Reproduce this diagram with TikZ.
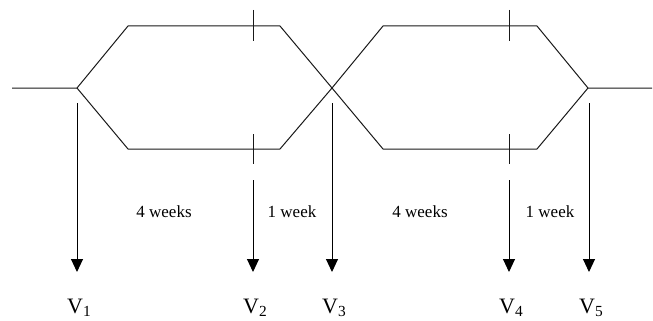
\documentclass[tikz,border=0pt]{standalone}
\usepackage{fontspec}
\setmainfont{Liberation Serif}
\usetikzlibrary{arrows.meta}

\begin{document}
\begin{tikzpicture}[x=1pt, y=-1pt,
  line/.style={black!90, line width=1pt},
  arr/.style={-{Triangle[length=13pt,width=12pt]}, line width=1pt},
  gaplab/.style={anchor=base, font=\fontsize{17}{20}\selectfont},
  vlab/.style={anchor=base west, inner sep=0pt, font=\fontsize{22}{26}\selectfont}]
\useasboundingbox (0,0) rectangle (653,321);
% network of the two loops
\coordinate (in) at (12,88);
\coordinate (j1) at (77,88);
\coordinate (t1l) at (128,26);
\coordinate (t1r) at (280,26);
\coordinate (b1l) at (128,149);
\coordinate (b1r) at (280,149);
\coordinate (j2) at (332,88);
\coordinate (t2l) at (383,26);
\coordinate (t2r) at (537,26);
\coordinate (b2l) at (383,149);
\coordinate (b2r) at (537,149);
\coordinate (j3) at (588,88);
\coordinate (out) at (652,88);
\draw[line] (in) -- (j1) -- (t1l) -- (t1r) -- (j2) -- (b2l) -- (b2r) -- (j3) -- (out);
\draw[line] (j1) -- (b1l) -- (b1r) -- (j2) -- (t2l) -- (t2r) -- (j3);
% ticks
\draw[line] (253,10) -- (253,41);
\draw[line] (253,134) -- (253,164);
\draw[line] (509,10) -- (509,41);
\draw[line] (509,134) -- (509,164);
% visits
\coordinate (s1) at (77,103);
\coordinate (s2) at (253,180);
\coordinate (s3) at (332,103);
\coordinate (s4) at (509,180);
\coordinate (s5) at (589,103);
\coordinate (e1) at (77,272);
\coordinate (e2) at (253,272);
\coordinate (e3) at (332,272);
\coordinate (e4) at (509,272);
\coordinate (e5) at (589,272);
\draw[arr] (s1) -- (e1);
\draw[arr] (s2) -- (e2);
\draw[arr] (s3) -- (e3);
\draw[arr] (s4) -- (e4);
\draw[arr] (s5) -- (e5);
\node[vlab] (v1) at (67,313) {V\textsubscript{1}};
\node[vlab] (v2) at (243,313) {V\textsubscript{2}};
\node[vlab] (v3) at (322,313) {V\textsubscript{3}};
\node[vlab] (v4) at (499,313) {V\textsubscript{4}};
\node[vlab] (v5) at (579,313) {V\textsubscript{5}};
% intervals
\node[gaplab] (w1) at (164,217) {4 weeks};
\node[gaplab] (w2) at (292,217) {1 week};
\node[gaplab] (w3) at (420,217) {4 weeks};
\node[gaplab] (w4) at (550,217) {1 week};
\end{tikzpicture}
\end{document}
